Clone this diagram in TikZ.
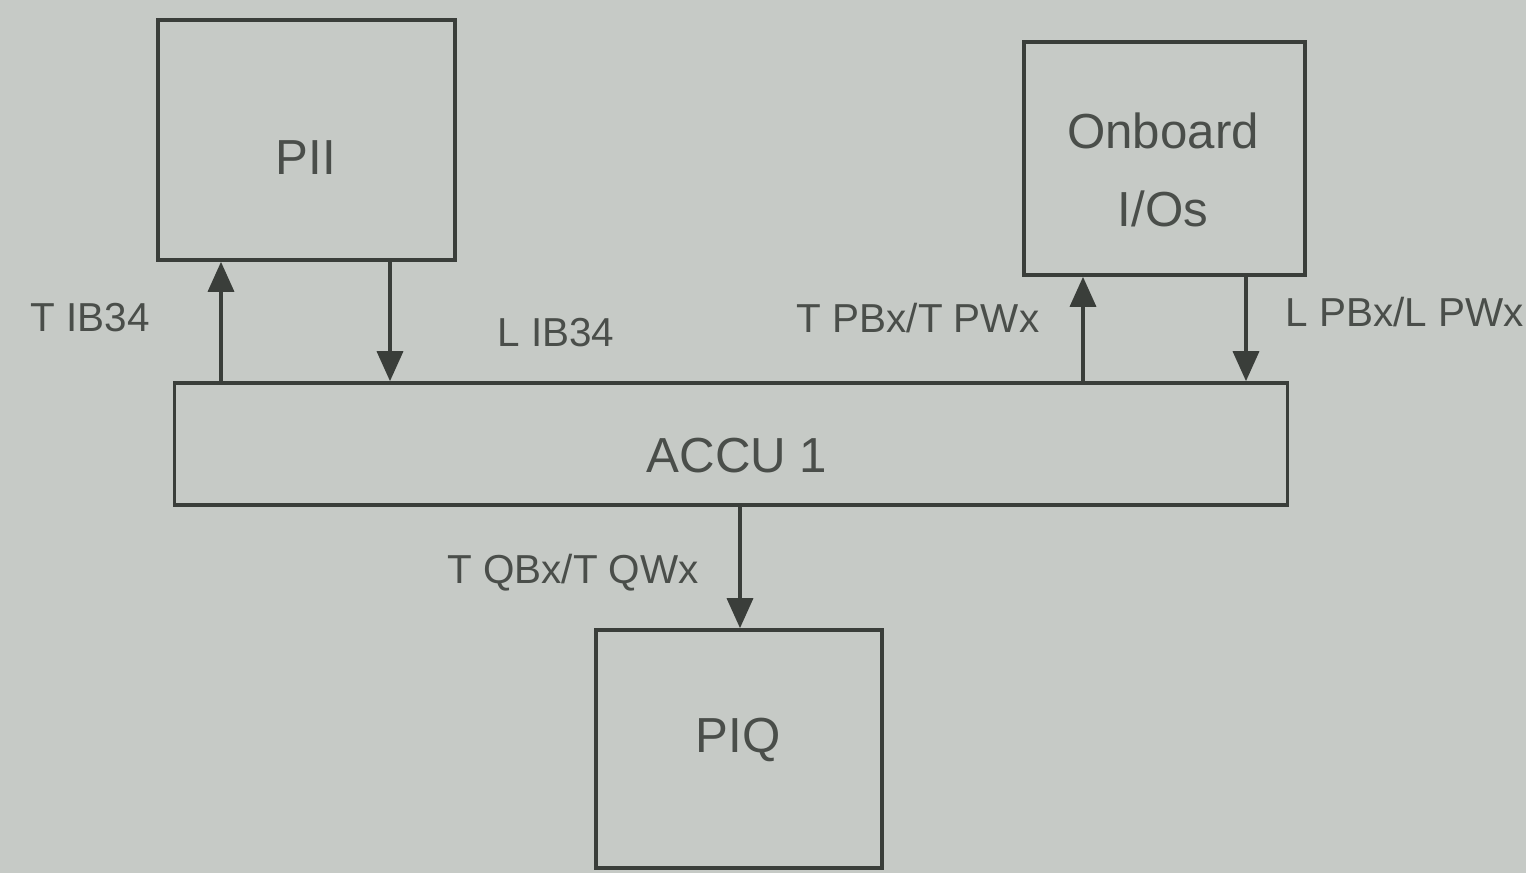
\documentclass[tikz,border=0pt]{standalone}
\usepackage{fontspec}
\setmainfont{Liberation Sans}
\usetikzlibrary{arrows.meta}
\definecolor{bg}{HTML}{C6CAC6}
\definecolor{ln}{HTML}{3A3E3A}
\definecolor{tx}{HTML}{4A4E4A}
\begin{document}
\begin{tikzpicture}[x=0.01cm,y=-0.01cm,
  box/.style={draw=ln,line width=1pt,fill=none,inner sep=0pt,text=tx,font=\fontsize{14}{21}\selectfont,align=center},
  lbl/.style={text=tx,font=\fontsize{11.5}{14}\selectfont,inner sep=0pt},
  arr/.style={draw=ln,line width=1pt,-{Triangle[length=3mm,width=2.6mm]}}]
\fill[bg] (0,0) rectangle (1526,873);
\useasboundingbox (0,0) rectangle (1526,873);
\node[box,minimum width=2.97cm,minimum height=2.40cm] (PII) at (306.5,140) {};
\node[text=tx,font=\fontsize{14}{21}\selectfont] (PIIt) at (306,158) {PII};
\node[box,minimum width=2.81cm,minimum height=2.33cm] (IO) at (1164.5,158.5) {};
\node[text=tx,font=\fontsize{14}{21}\selectfont,align=center] (IOt) at (1163,170) {Onboard\\[1pt]I/Os};
\node[box,minimum width=11.12cm,minimum height=1.22cm] (ACCU) at (731,444) {};
\node[text=tx,font=\fontsize{14}{21}\selectfont] (ACCUt) at (737,456) {ACCU 1};
\node[box,minimum width=2.86cm,minimum height=2.38cm] (PIQ) at (739,749) {};
\node[text=tx,font=\fontsize{14}{21}\selectfont] (PIQt) at (738,740) {PIQ};
\coordinate (c1) at (221,0);
\coordinate (c2) at (390,0);
\coordinate (c3) at (1083,0);
\coordinate (c4) at (1246,0);
\coordinate (c5) at (740,0);
\draw[arr] (ACCU.north -| c1) -- (PII.south -| c1);
\draw[arr] (PII.south -| c2) -- (ACCU.north -| c2);
\draw[arr] (ACCU.north -| c3) -- (IO.south -| c3);
\draw[arr] (IO.south -| c4) -- (ACCU.north -| c4);
\draw[arr] (ACCU.south -| c5) -- (PIQ.north -| c5);
\node[lbl] (l1) at (90,318) {T IB34};
\node[lbl] (l2) at (556,333) {L IB34};
\node[lbl] (l3) at (918,318) {T PBx/T PWx};
\node[lbl] (l4) at (1405,312) {L PBx/L PWx};
\node[lbl] (l5) at (573,573) {T QBx/T QWx};
\end{tikzpicture}
\end{document}
